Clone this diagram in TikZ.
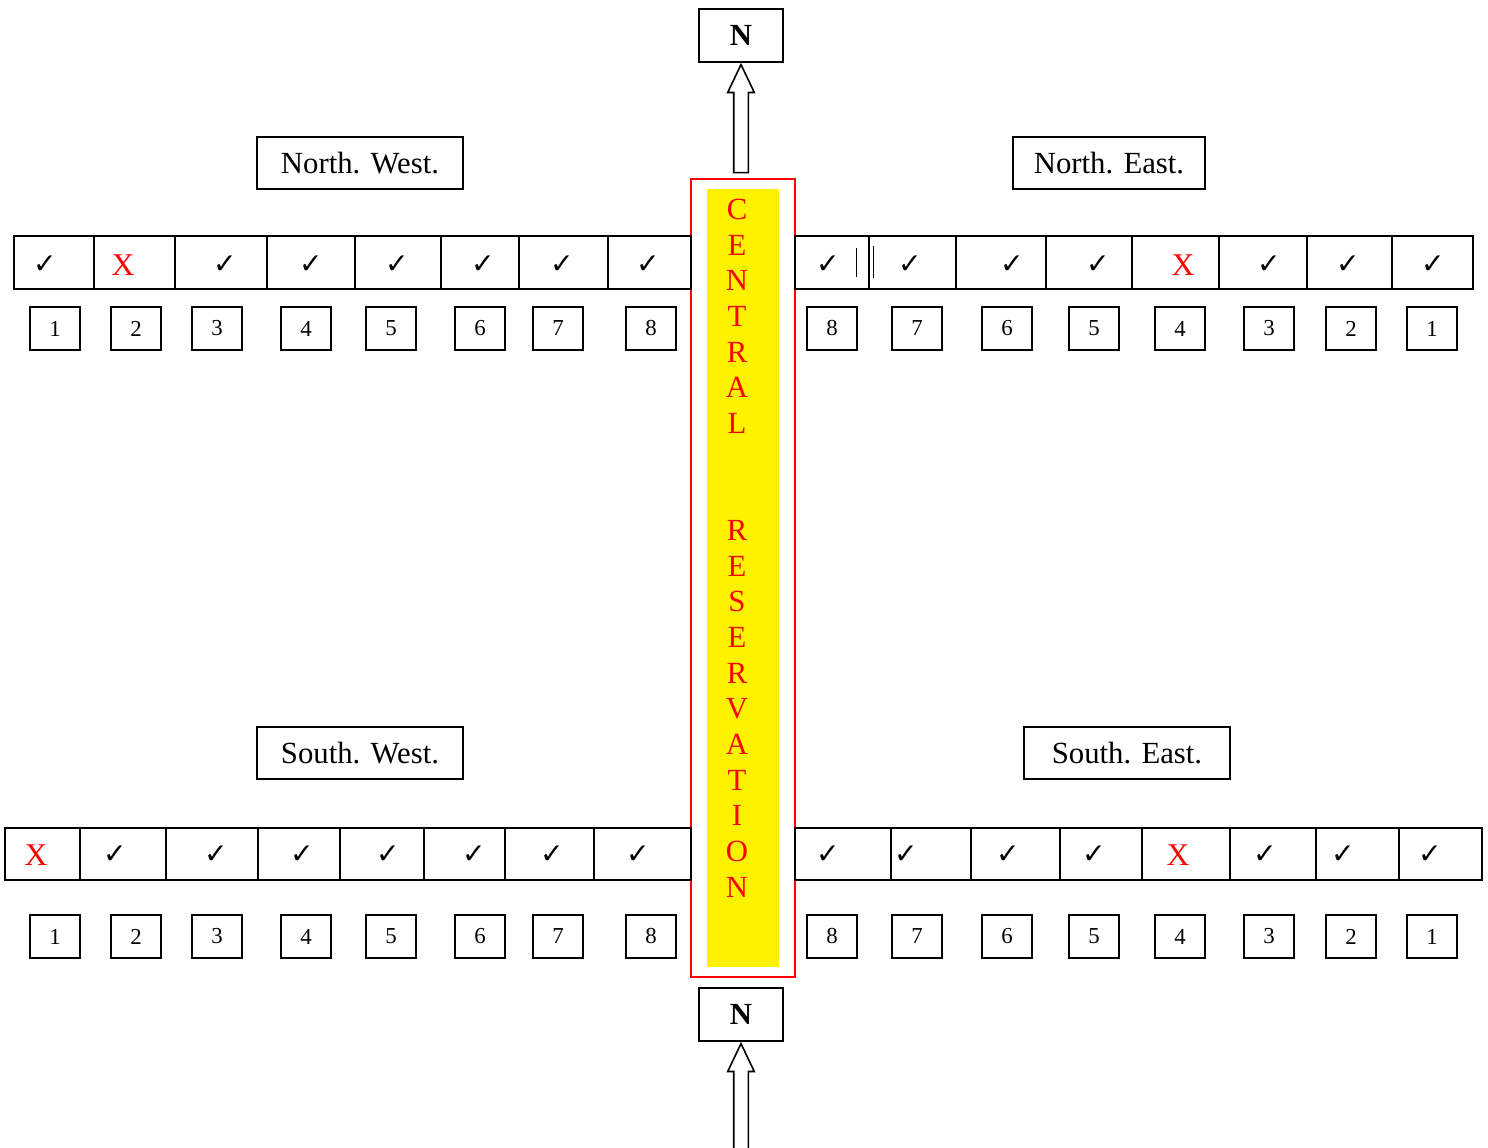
\documentclass[tikz,border=0pt]{standalone}
\usepackage{fontspec}
\setmainfont{Liberation Serif}
\newfontfamily\symfont{DejaVu Sans}
\usetikzlibrary{positioning,shapes.arrows}
\newcommand{\yes}{{\symfont\fontsize{16}{16}\selectfont ✓}}
\newcommand{\no}{\textcolor{red}{\fontsize{18}{18}\selectfont X}}
\tikzset{
  cell/.style={draw, line width=0.9pt},
  numbox/.style={draw, line width=0.9pt, minimum width=1cm, minimum height=0.86cm, inner sep=0pt, font=\fontsize{13}{13}\selectfont},
  area/.style={draw, line width=0.9pt, minimum height=1.04cm, inner sep=0pt, font=\fontsize{17.5}{18}\selectfont},
  nbox/.style={draw, line width=0.9pt, minimum width=1.68cm, minimum height=1.06cm, inner sep=0pt, font=\fontsize{17.5}{18}\selectfont\bfseries},
  uparrow/.style={draw, line width=0.9pt, single arrow, shape border rotate=90, single arrow head extend=0.12cm, single arrow tip angle=51, inner sep=0.13cm}
}
\begin{document}
\begin{tikzpicture}[x=0.02cm, y=-0.02cm]
\useasboundingbox (0,0) rectangle (1488,1147);
% central reservation
\node[draw=red, line width=0.7pt, minimum width=2.08cm, minimum height=15.96cm, inner sep=0pt] (res) at (743,578) {};
\node[fill=yellow, minimum width=1.44cm, minimum height=15.56cm, inner sep=0pt] (resfill) at (743,578) {};
\node[text=red, align=center, inner sep=0pt, font=\fontsize{17.5}{20.3}\selectfont] (restext) at (737,548)
  {C\\E\\N\\T\\R\\A\\L\\ \\ \\R\\E\\S\\E\\R\\V\\A\\T\\I\\O\\N};
% north markers
\node[nbox] (ntop) at (741,35.5) {N};
\node[uparrow, minimum height=2.16cm, anchor=tip] (arrtop) at (ntop.south) {};
\node[nbox] (nbot) at (741,1014.5) {N};
\node[uparrow, minimum height=2.14cm, anchor=tip] (arrbot) at (nbot.south) {};
% area labels
\node[area, minimum width=4.12cm] (nw) at (360,163) {North. West.};
\node[area, minimum width=3.84cm] (ne) at (1109,163) {North. East.};
\node[area, minimum width=4.12cm] (sw) at (360,753) {South. West.};
\node[area, minimum width=4.12cm] (se) at (1127,753) {South. East.};
% north west
\foreach \a/\b/\c/\m [count=\i] in {14/94/45/\yes, 94/175/123/\no, 175/267/225/\yes, 267/355/311/\yes,
    355/441/397/\yes, 441/519/483/\yes, 519/608/562/\yes, 608/691/648/\yes} {
  \draw[cell] (\a,236) rectangle (\b,289);
  \node (nwm\i) at (\c,265) {\m};
}
\foreach \x [count=\i] in {55,136,217,306,391,480,558,651}
  \node[numbox] (nwn\i) at (\x,328.5) {\i};
% north east
\foreach \a/\b/\c/\m/\n in {795/869/828/\yes/8, 869/956/910/\yes/7, 956/1046/1012/\yes/6, 1046/1132/1098/\yes/5,
    1132/1219/1183/\no/4, 1219/1307/1269/\yes/3, 1307/1392/1348/\yes/2, 1392/1473/1433/\yes/1} {
  \draw[cell] (\a,236) rectangle (\b,289);
  \node (nem\n) at (\c,265) {\m};
}
\draw[line width=0.5pt] (856,248) -- (856,277);
\draw[line width=0.5pt] (873,246) -- (873,278);
\foreach \x/\n in {832/8, 917/7, 1007/6, 1094/5, 1180/4, 1269/3, 1351/2, 1432/1}
  \node[numbox] (nen\n) at (\x,328.5) {\n};
% south west
\foreach \a/\b/\c/\m [count=\i] in {5/80/36/\no, 80/166/115/\yes, 166/258/216/\yes, 258/340/302/\yes,
    340/424/388/\yes, 424/505/474/\yes, 505/594/552/\yes, 594/691/638/\yes} {
  \draw[cell] (\a,828) rectangle (\b,880);
  \node (swm\i) at (\c,855) {\m};
}
\foreach \x [count=\i] in {55,136,217,306,391,480,558,651}
  \node[numbox] (swn\i) at (\x,936.5) {\i};
% south east
\foreach \a/\b/\c/\m/\n in {795/891/828/\yes/8, 891/971/906/\yes/7, 971/1060/1008/\yes/6, 1060/1142/1094/\yes/5,
    1142/1230/1178/\no/4, 1230/1316/1265/\yes/3, 1316/1399/1343/\yes/2, 1399/1482/1430/\yes/1} {
  \draw[cell] (\a,828) rectangle (\b,880);
  \node (sem\n) at (\c,855) {\m};
}
\foreach \x/\n in {832/8, 917/7, 1007/6, 1094/5, 1180/4, 1269/3, 1351/2, 1432/1}
  \node[numbox] (sen\n) at (\x,936.5) {\n};
\end{tikzpicture}
\end{document}
